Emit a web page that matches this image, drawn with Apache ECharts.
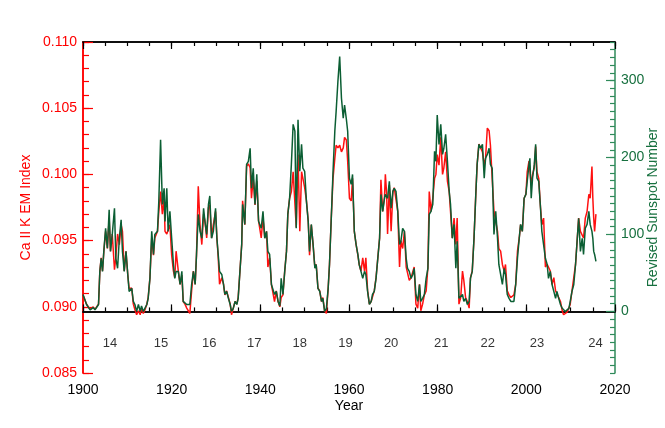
<!DOCTYPE html>
<html>
<head>
<meta charset="utf-8">
<script src="https://cdn.jsdelivr.net/npm/echarts@6/dist/echarts.min.js"></script>
<style>
html, body { margin: 0; padding: 0; background: #fff; }
#container { width: 665px; height: 428px; }
</style>
</head>
<body>
<div id="container"></div>
<script>
// sample times (years) shared by both curves
var years = [
    1900.0, 1900.8, 1901.6, 1902.3, 1902.7, 1903.5, 1903.8, 1904.1, 1904.4, 1904.7,
    1905.1, 1905.5, 1905.9, 1906.2, 1906.6, 1907.1, 1907.4, 1907.8, 1908.2, 1908.6,
    1908.9, 1909.3, 1909.7, 1910.1, 1910.4, 1911.0, 1911.35, 1911.7, 1912.1, 1912.5,
    1912.9, 1913.2, 1913.6, 1914.0, 1914.4, 1914.7, 1915.1, 1915.5, 1915.9, 1916.2,
    1916.8, 1917.1, 1917.5, 1917.9, 1918.3, 1918.5, 1918.9, 1919.2, 1919.6, 1920.0,
    1920.4, 1920.7, 1921.0, 1921.5, 1921.9, 1922.3, 1922.6, 1923.0, 1923.4, 1923.8,
    1924.1, 1924.5, 1924.9, 1925.3, 1925.6, 1926.0, 1926.4, 1926.8, 1927.2, 1927.5,
    1927.9, 1928.3, 1928.6, 1929.0, 1929.4, 1929.9, 1930.2, 1930.5, 1930.8, 1931.3,
    1931.7, 1932.0, 1932.4, 1932.8, 1933.2, 1933.5, 1933.9, 1934.3, 1934.7, 1935.0,
    1935.4, 1935.8, 1936.0, 1936.5, 1936.9, 1937.3, 1937.7, 1938.0, 1938.4, 1938.8,
    1939.2, 1939.6, 1940.2, 1940.6, 1941.0, 1941.4, 1941.7, 1942.1, 1942.5, 1942.9,
    1943.2, 1943.6, 1944.0, 1944.4, 1944.7, 1945.1, 1945.5, 1945.9, 1946.2, 1946.6,
    1947.0, 1947.4, 1947.8, 1948.1, 1948.5, 1948.9, 1949.3, 1949.6, 1950.0, 1950.4,
    1950.8, 1951.1, 1951.5, 1951.9, 1952.3, 1952.6, 1953.0, 1953.4, 1953.8, 1954.1,
    1954.5, 1954.9, 1955.3, 1955.6, 1956.0, 1956.4, 1956.8, 1957.1, 1957.5, 1957.9,
    1958.3, 1958.7, 1959.0, 1959.4, 1959.7, 1960.1, 1960.5, 1960.8, 1961.2, 1961.6,
    1962.0, 1962.3, 1962.7, 1963.1, 1963.5, 1963.8, 1964.2, 1964.6, 1965.0, 1965.3,
    1965.7, 1966.1, 1966.5, 1966.9, 1967.2, 1967.6, 1968.0, 1968.2, 1968.5, 1968.7,
    1969.1, 1969.5, 1969.9, 1970.2, 1970.6, 1971.0, 1971.4, 1971.7, 1972.1, 1972.5,
    1972.9, 1973.2, 1973.6, 1974.0, 1974.4, 1974.7, 1975.1, 1975.5, 1975.9, 1976.2,
    1976.6, 1977.0, 1977.4, 1977.8, 1978.1, 1978.5, 1978.9, 1979.3, 1979.6, 1979.9,
    1980.3, 1980.7, 1981.1, 1981.4, 1981.8, 1982.2, 1982.6, 1982.9, 1983.3, 1983.7,
    1984.1, 1984.4, 1984.8, 1985.2, 1985.6, 1985.9, 1986.3, 1986.7, 1987.1, 1987.4,
    1987.8, 1988.2, 1988.6, 1988.9, 1989.3, 1989.7, 1990.1, 1990.5, 1990.8, 1991.2,
    1991.6, 1991.9, 1992.3, 1992.7, 1993.1, 1993.5, 1993.8, 1994.2, 1994.6, 1995.0,
    1995.3, 1995.7, 1996.1, 1996.5, 1996.9, 1997.2, 1997.6, 1998.0, 1998.4, 1998.7,
    1999.1, 1999.5, 1999.9, 2000.2, 2000.6, 2000.8, 2001.1, 2001.4, 2001.8, 2002.1,
    2002.4, 2002.8, 2003.2, 2003.5, 2003.9, 2004.3, 2004.7, 2005.0, 2005.4, 2005.8,
    2006.2, 2006.6, 2006.9, 2007.3, 2007.7, 2008.1, 2008.4, 2008.8, 2009.2, 2009.6,
    2009.9, 2010.3, 2010.7, 2011.1, 2011.4, 2011.8, 2012.2, 2012.6, 2012.9, 2013.3,
    2013.7, 2014.1, 2014.4, 2014.8, 2015.0, 2015.2, 2015.4, 2015.7
];

// Ca II K emission index (left axis, red)
var caIndex = [
    0.0909, 0.0902, 0.0898, 0.0900, 0.0898, 0.0902, 0.0927, 0.0937, 0.0927, 0.0942,
    0.0957, 0.0944, 0.0967, 0.0942, 0.0955, 0.0928, 0.0937, 0.0955, 0.0947, 0.0962,
    0.0957, 0.0927, 0.0942, 0.0924, 0.0914, 0.0914, 0.0902, 0.0898, 0.0894, 0.0897,
    0.0894, 0.0899, 0.0895, 0.0898, 0.0902, 0.0907, 0.0922, 0.0952, 0.0939, 0.0952,
    0.0957, 0.0972, 0.0987, 0.0970, 0.0982, 0.0957, 0.0955, 0.0955, 0.0962, 0.0939,
    0.0927, 0.0922, 0.0942, 0.0927, 0.0917, 0.0924, 0.0904, 0.0902, 0.0899, 0.0900,
    0.0895, 0.0912, 0.0927, 0.0917, 0.0939, 0.0991, 0.0962, 0.0947, 0.0970, 0.0965,
    0.0952, 0.0975, 0.0977, 0.0952, 0.0962, 0.0972, 0.0952, 0.0937, 0.0917, 0.0922,
    0.0917, 0.0909, 0.0912, 0.0907, 0.0902, 0.0894, 0.0899, 0.0904, 0.0902, 0.0907,
    0.0927, 0.0947, 0.0980, 0.0962, 0.1006, 0.1008, 0.1005, 0.0982, 0.0997, 0.0977,
    0.0995, 0.0965, 0.0952, 0.0967, 0.0952, 0.0957, 0.0930, 0.0937, 0.0917, 0.0918,
    0.0904, 0.0912, 0.0904, 0.0900, 0.0907, 0.0909, 0.0927, 0.0942, 0.0970, 0.0982,
    0.0987, 0.1002, 0.1002, 0.0960, 0.1015, 0.0957, 0.1002, 0.0997, 0.0990, 0.0980,
    0.0965, 0.0939, 0.0962, 0.0947, 0.0930, 0.0932, 0.0914, 0.0912, 0.0904, 0.0907,
    0.0897, 0.0895, 0.0914, 0.0932, 0.0967, 0.0997, 0.1012, 0.1022, 0.1020, 0.1022,
    0.1017, 0.1020, 0.1028, 0.1026, 0.1010, 0.0982, 0.0980, 0.0997, 0.0957, 0.0947,
    0.0939, 0.0932, 0.0927, 0.0937, 0.0927, 0.0937, 0.0912, 0.0902, 0.0904, 0.0904,
    0.0912, 0.0922, 0.0937, 0.0952, 0.0996, 0.0972, 0.0982, 0.1000, 0.0985, 0.0955,
    0.0992, 0.0957, 0.0987, 0.0990, 0.0990, 0.0972, 0.0930, 0.0950, 0.0944, 0.0957,
    0.0930, 0.0930, 0.0920, 0.0922, 0.0922, 0.0930, 0.0902, 0.0899, 0.0917, 0.0897,
    0.0902, 0.0909, 0.0912, 0.0930, 0.0987, 0.0972, 0.0982, 0.0997, 0.1000, 0.1015,
    0.1007, 0.1028, 0.1000, 0.1005, 0.1017, 0.0995, 0.0987, 0.0987, 0.0952, 0.0967,
    0.0947, 0.0967, 0.0902, 0.0907, 0.0927, 0.0920, 0.0907, 0.0904, 0.0899, 0.0922,
    0.0927, 0.0952, 0.0985, 0.1007, 0.1023, 0.1020, 0.1017, 0.1007, 0.1012, 0.1035,
    0.1033, 0.1022, 0.1022, 0.0972, 0.0972, 0.0957, 0.0944, 0.0942, 0.0932, 0.0927,
    0.0932, 0.0912, 0.0909, 0.0907, 0.0907, 0.0909, 0.0917, 0.0942, 0.0952, 0.0962,
    0.0957, 0.0982, 0.0985, 0.1002, 0.1010, 0.1010, 0.0992, 0.1000, 0.1005, 0.1021,
    0.1002, 0.0997, 0.0975, 0.0962, 0.0967, 0.0930, 0.0932, 0.0932, 0.0927, 0.0917,
    0.0922, 0.0912, 0.0912, 0.0907, 0.0904, 0.0897, 0.0894, 0.0894, 0.0896, 0.0899,
    0.0902, 0.0912, 0.0922, 0.0932, 0.0947, 0.0967, 0.0957, 0.0957, 0.0952, 0.0967,
    0.0972, 0.0985, 0.0982, 0.1006, 0.0982, 0.0967, 0.0957, 0.0970
];

// revised sunspot number (right axis, green)
var sunspot = [
    22, 9, 2, 5, 2, 9, 52, 69, 52, 78,
    108, 82, 132, 78, 100, 134, 69, 56, 95, 119,
    78, 52, 78, 48, 26, 30, 13, 9, 0, 9,
    0, 7, 0, 2, 9, 17, 43, 104, 74, 100,
    104, 143, 223, 139, 160, 117, 160, 104, 130, 95,
    61, 43, 52, 52, 35, 52, 13, 11, 9, 11,
    9, 35, 52, 35, 74, 126, 104, 95, 134, 117,
    100, 139, 150, 95, 104, 134, 95, 74, 52, 48,
    35, 22, 26, 17, 9, 0, 4, 13, 9, 17,
    52, 87, 139, 113, 191, 195, 212, 160, 186, 139,
    178, 117, 108, 130, 95, 104, 78, 74, 35, 37,
    22, 26, 13, 7, 43, 22, 52, 78, 126, 147,
    191, 243, 234, 108, 249, 182, 217, 186, 182, 143,
    117, 78, 113, 87, 56, 61, 30, 26, 13, 17,
    0, 4, 30, 61, 121, 182, 234, 260, 299, 331,
    277, 251, 268, 250, 234, 173, 165, 178, 104, 87,
    74, 61, 52, 43, 52, 48, 26, 9, 13, 22,
    26, 43, 69, 95, 152, 130, 147, 152, 152, 147,
    169, 134, 156, 160, 156, 130, 87, 91, 108, 104,
    69, 56, 52, 43, 48, 56, 22, 13, 35, 13,
    17, 22, 43, 56, 126, 130, 139, 208, 195, 255,
    217, 243, 204, 212, 230, 195, 156, 139, 95, 113,
    56, 91, 17, 17, 22, 13, 17, 9, 13, 43,
    52, 95, 152, 191, 217, 212, 217, 173, 199, 204,
    212, 191, 186, 100, 130, 95, 61, 61, 35, 56,
    48, 22, 17, 13, 15, 13, 35, 69, 95, 113,
    104, 147, 152, 169, 191, 199, 147, 173, 191, 217,
    173, 169, 134, 104, 104, 69, 61, 43, 52, 35,
    26, 17, 26, 17, 9, 4, 4, 0, 2, 4,
    13, 26, 35, 61, 87, 121, 78, 95, 74, 108,
    113, 130, 113, 104, 95, 78, 74, 65
];

// solar cycle numbers written along the bottom
var cycleNames = ['14', '15', '16', '17', '18', '19', '20', '21', '22', '23', '24'];
var cycleYears = [1906.1, 1917.6, 1928.5, 1938.6, 1948.9, 1959.2, 1969.5, 1980.8, 1991.3, 2002.4, 2015.6];
var cycleLabelLevel = 0.0872;

var yearRange = [1900, 2020];
var caRange = [0.085, 0.110];
var ssnRange = [-80, 350];
var ssnLabels = [0, 100, 200, 300];

var RED = '#ff0000';
var GREEN_AXIS = '#2f8a5a';
var GREEN_TEXT = '#17703f';
var GREEN_LINE = '#0b5e33';
var FONT = 'Liberation Sans';

function xAxisPart(position, interval, tickLen, withLabels) {
    return {
        type: 'value', position: position,
        min: yearRange[0], max: yearRange[1], interval: interval,
        axisLine: { show: true, lineStyle: { color: '#000', width: 1.5 } },
        axisTick: { show: true, inside: true, length: tickLen, lineStyle: { color: '#000', width: 1.2 } },
        axisLabel: {
            show: withLabels, color: '#000', fontSize: 14, margin: 10, fontFamily: FONT,
            formatter: function (v) { return String(v); }
        },
        splitLine: { show: false }
    };
}

var dom = document.getElementById('container');
var myChart = echarts.init(dom, null, { renderer: 'canvas' });

var xBottomMajor = xAxisPart('bottom', 20, 7, true);
xBottomMajor.name = 'Year';
xBottomMajor.nameLocation = 'middle';
xBottomMajor.nameGap = 26;
xBottomMajor.nameMoveOverlap = false;
xBottomMajor.nameTextStyle = { color: '#000', fontSize: 14, fontFamily: FONT };

var option = {
    animation: false,
    textStyle: { fontFamily: FONT },
    grid: { left: 83, right: 50, top: 42, bottom: 55, containLabel: false, outerBoundsMode: 'none' },
    xAxis: [
        xAxisPart('bottom', 5, 4, false),
        xBottomMajor,
        xAxisPart('top', 5, 4, false),
        xAxisPart('top', 20, 7, false)
    ],
    yAxis: [
        {
            // minor ticks of the Ca axis, carries the red series
            type: 'value', position: 'left',
            min: caRange[0], max: caRange[1], interval: 0.001,
            axisLine: { show: true, lineStyle: { color: RED, width: 1.5 } },
            axisTick: { show: true, inside: true, length: 6, lineStyle: { color: RED, width: 1.2 } },
            axisLabel: { show: false },
            splitLine: { show: false }
        },
        {
            type: 'value', position: 'left',
            min: caRange[0], max: caRange[1], interval: 0.005,
            axisLine: { show: true, lineStyle: { color: RED, width: 1.5 } },
            axisTick: { show: true, inside: true, length: 10, lineStyle: { color: RED, width: 1.2 } },
            axisLabel: {
                color: RED, fontSize: 14, margin: 6, fontFamily: FONT,
                formatter: function (v) { return v.toFixed(3); }
            },
            splitLine: { show: false },
            name: 'Ca II K EM Index', nameLocation: 'middle', nameGap: 50, nameMoveOverlap: false,
            nameTextStyle: { color: RED, fontSize: 14, fontFamily: FONT }
        },
        {
            // minor ticks of the sunspot axis, carries the green series
            type: 'value', position: 'right',
            min: ssnRange[0], max: ssnRange[1], interval: 10,
            axisLine: { show: true, lineStyle: { color: GREEN_AXIS, width: 1.5 } },
            axisTick: { show: true, inside: true, length: 5, lineStyle: { color: GREEN_AXIS, width: 1.2 } },
            axisLabel: { show: false },
            splitLine: { show: false },
            name: 'Revised Sunspot Number', nameLocation: 'middle', nameGap: 31, nameMoveOverlap: false,
            nameTextStyle: { color: GREEN_TEXT, fontSize: 14, fontFamily: FONT }
        },
        {
            type: 'value', position: 'right',
            min: ssnRange[0], max: ssnRange[1], interval: 10,
            axisLine: { show: false },
            axisTick: {
                show: true, inside: true, length: 9, customValues: ssnLabels,
                lineStyle: { color: GREEN_AXIS, width: 1.2 }
            },
            axisLabel: {
                color: GREEN_TEXT, fontSize: 14, margin: 6, fontFamily: FONT,
                customValues: ssnLabels
            },
            splitLine: { show: false }
        }
    ],
    series: [
        {
            name: 'Ca II K', type: 'line', xAxisIndex: 0, yAxisIndex: 0,
            showSymbol: false, symbol: 'none',
            lineStyle: { color: '#ff1010', width: 1.5 },
            data: years.map(function (y, i) { return [y, caIndex[i]]; }),
            z: 2
        },
        {
            name: 'Sunspot', type: 'line', xAxisIndex: 0, yAxisIndex: 2,
            showSymbol: false, symbol: 'none',
            lineStyle: { color: GREEN_LINE, width: 1.5 },
            data: years.map(function (y, i) { return [y, sunspot[i]]; }),
            z: 3
        },
        {
            name: 'cycles', type: 'scatter', xAxisIndex: 0, yAxisIndex: 0,
            symbolSize: 0, silent: true,
            label: {
                show: true, position: 'inside', color: '#000', fontSize: 13, fontFamily: FONT,
                formatter: function (p) { return p.name; }
            },
            data: cycleYears.map(function (y, i) {
                return { name: cycleNames[i], value: [y, cycleLabelLevel] };
            })
        }
    ]
};

myChart.setOption(option);
</script>
</body>
</html>
